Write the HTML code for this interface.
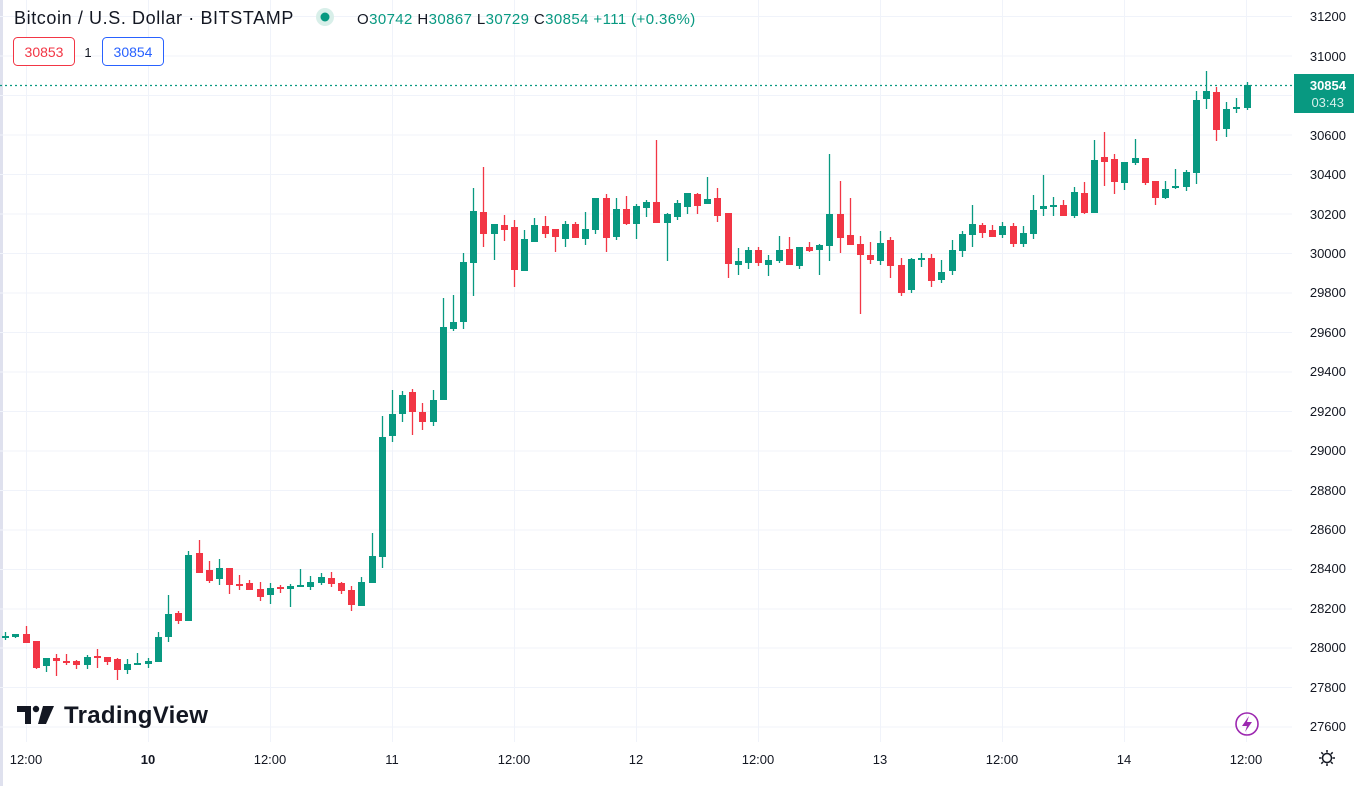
<!DOCTYPE html>
<html><head><meta charset="utf-8"><style>
body{margin:0;width:1358px;height:786px;overflow:hidden;background:#fff;font-family:"Liberation Sans",sans-serif}
</style></head><body>
<svg width="1358" height="786" viewBox="0 0 1358 786" xmlns="http://www.w3.org/2000/svg" font-family="Liberation Sans, sans-serif">
<rect x="0" y="0" width="3" height="786" fill="#dfe1ee"/>
<g stroke="#f0f3fa" stroke-width="1">
<path d="M0 16.5H1292M0 56H1292M0 95.5H1292M0 135H1292M0 174.5H1292M0 214H1292M0 253.5H1292M0 293H1292M0 332.5H1292M0 372H1292M0 411.5H1292M0 451H1292M0 490.5H1292M0 530H1292M0 569.5H1292M0 609H1292M0 648H1292M0 687.5H1292M0 727H1292"/>
<path d="M26.5 0V742M148.5 0V742M270.5 0V742M392.5 0V742M514.5 0V742M636.5 0V742M758.5 0V742M880.5 0V742M1002.5 0V742M1124.5 0V742M1246.5 0V742"/>
</g>
<line x1="0" y1="85.5" x2="1292" y2="85.5" stroke="#089981" stroke-width="1.2" stroke-dasharray="2 3"/>
<path fill="none" stroke="#089981" stroke-width="1.3" d="M5.5 632V640M15.5 634V638M46.5 658V672M87.5 655V669M127.5 659V674M137.5 653V665M148.5 658V668M158.5 632V662M168.5 595V642M188.5 551V621M219.5 559V585M270.5 583V604M290.5 584V607M300.5 569V587M310.5 576V590M321.5 573V585M361.5 577V606M372.5 533V583M382.5 416V568M392.5 390V442M402.5 391V422M433.5 390V426M443.5 298V400M453.5 295V331M463.5 253V329M473.5 188V296M494.5 224V260M524.5 230V271M534.5 218V242M565.5 221V247M585.5 212V245M595.5 198V234M616.5 198V240M636.5 204V239M646.5 200V217M667.5 213V261M677.5 200V220M687.5 193V214M707.5 177V204M738.5 248V275M748.5 247V269M768.5 255V276M779.5 236V263M799.5 247V269M819.5 244V275M829.5 154V261M880.5 231V265M911.5 258V293M921.5 253V267M941.5 260V283M952.5 240V275M962.5 231V257M972.5 205V247M1002.5 222V238M1023.5 226V247M1033.5 195V239M1043.5 175V216M1053.5 197V216M1074.5 187V218M1094.5 140V213M1124.5 162V190M1135.5 139V165M1165.5 181V199M1175.5 169V189M1186.5 170V191M1196.5 91V184M1206.5 71V109M1226.5 102V137M1236.5 98V113M1247.5 82V110"/>
<path fill="#089981" d="M2 636h7v2h-7zM12 634h7v3h-7zM43 658h7v8h-7zM84 657h7v8h-7zM124 664h7v6h-7zM134 663h7v2h-7zM145 661h7v3h-7zM155 637h7v25h-7zM165 614h7v23h-7zM185 555h7v66h-7zM216 568h7v11h-7zM267 588h7v7h-7zM287 586h7v3h-7zM297 585h7v2h-7zM307 582h7v5h-7zM318 577h7v6h-7zM358 582h7v24h-7zM369 556h7v27h-7zM379 437h7v120h-7zM389 414h7v22h-7zM399 395h7v19h-7zM430 400h7v22h-7zM440 327h7v73h-7zM450 322h7v7h-7zM460 262h7v60h-7zM470 211h7v52h-7zM491 224h7v10h-7zM521 239h7v32h-7zM531 225h7v17h-7zM562 224h7v15h-7zM582 229h7v10h-7zM592 198h7v32h-7zM613 209h7v28h-7zM633 206h7v18h-7zM643 202h7v6h-7zM664 214h7v9h-7zM674 203h7v14h-7zM684 193h7v14h-7zM704 199h7v5h-7zM735 261h7v4h-7zM745 250h7v13h-7zM765 260h7v5h-7zM776 250h7v11h-7zM796 247h7v19h-7zM816 245h7v5h-7zM826 214h7v32h-7zM877 243h7v18h-7zM908 259h7v31h-7zM918 258h7v2h-7zM938 272h7v8h-7zM949 250h7v21h-7zM959 234h7v17h-7zM969 224h7v11h-7zM999 226h7v9h-7zM1020 233h7v11h-7zM1030 210h7v24h-7zM1040 206h7v3h-7zM1050 205h7v2h-7zM1071 192h7v24h-7zM1091 160h7v53h-7zM1121 162h7v21h-7zM1132 158h7v5h-7zM1162 189h7v9h-7zM1172 186h7v2h-7zM1183 172h7v15h-7zM1193 100h7v73h-7zM1203 91h7v8h-7zM1223 109h7v20h-7zM1233 107h7v2h-7zM1244 85h7v23h-7z"/>
<path fill="none" stroke="#f23645" stroke-width="1.3" d="M26.5 626V643M36.5 641V669M56.5 654V676M66.5 654V665M76.5 660V669M97.5 649V668M107.5 657V665M117.5 658V680M178.5 611V624M199.5 540V573M209.5 561V583M229.5 568V594M239.5 575V590M249.5 580V590M260.5 582V601M280.5 585V593M331.5 572V587M341.5 582V594M351.5 586V611M412.5 389V435M422.5 403V430M483.5 167V247M504.5 215V241M514.5 220V287M545.5 216V238M555.5 229V252M575.5 222V238M606.5 194V252M626.5 196V225M656.5 140V223M697.5 193V214M717.5 188V222M728.5 213V278M758.5 247V266M789.5 237V265M809.5 242V252M840.5 181V253M850.5 198V245M860.5 236V314M870.5 242V264M890.5 237V278M901.5 258V296M931.5 254V287M982.5 223V238M992.5 225V237M1013.5 223V247M1063.5 200V216M1084.5 182V214M1104.5 132V186M1114.5 154V194M1145.5 158V185M1155.5 181V205M1216.5 87V141"/>
<path fill="#f23645" d="M23 634h7v9h-7zM33 641h7v27h-7zM53 658h7v3h-7zM63 661h7v2h-7zM73 661h7v4h-7zM94 656h7v2h-7zM104 657h7v5h-7zM114 659h7v11h-7zM175 613h7v8h-7zM196 553h7v20h-7zM206 570h7v11h-7zM226 568h7v17h-7zM236 584h7v2h-7zM246 583h7v7h-7zM257 589h7v8h-7zM277 587h7v2h-7zM328 578h7v6h-7zM338 583h7v8h-7zM348 590h7v15h-7zM409 392h7v20h-7zM419 412h7v10h-7zM480 212h7v22h-7zM501 225h7v5h-7zM511 227h7v43h-7zM542 226h7v8h-7zM552 229h7v8h-7zM572 224h7v14h-7zM603 198h7v40h-7zM623 209h7v15h-7zM653 202h7v21h-7zM694 194h7v12h-7zM714 198h7v18h-7zM725 213h7v51h-7zM755 250h7v13h-7zM786 249h7v16h-7zM806 247h7v4h-7zM837 214h7v24h-7zM847 235h7v10h-7zM857 244h7v11h-7zM867 255h7v5h-7zM887 240h7v26h-7zM898 265h7v28h-7zM928 258h7v23h-7zM979 225h7v8h-7zM989 230h7v7h-7zM1010 226h7v18h-7zM1060 205h7v11h-7zM1081 193h7v20h-7zM1101 157h7v5h-7zM1111 159h7v23h-7zM1142 158h7v25h-7zM1152 181h7v17h-7zM1213 92h7v38h-7z"/>
<g fill="#131722" font-size="13" text-anchor="end">
<text x="1346" y="21">31200</text><text x="1346" y="61">31000</text><text x="1346" y="140">30600</text><text x="1346" y="179">30400</text><text x="1346" y="219">30200</text><text x="1346" y="258">30000</text><text x="1346" y="297">29800</text><text x="1346" y="337">29600</text><text x="1346" y="376">29400</text><text x="1346" y="416">29200</text><text x="1346" y="455">29000</text><text x="1346" y="495">28800</text><text x="1346" y="534">28600</text><text x="1346" y="573">28400</text><text x="1346" y="613">28200</text><text x="1346" y="652">28000</text><text x="1346" y="692">27800</text><text x="1346" y="731">27600</text>
</g>
<rect x="1294" y="74" width="60" height="39" fill="#089981"/>
<text x="1346" y="90" fill="#fff" font-size="13" text-anchor="end" font-weight="bold">30854</text>
<text x="1344" y="107" fill="#d6f0eb" font-size="13" text-anchor="end">03:43</text>
<g fill="#131722" font-size="13" text-anchor="middle">
<text x="26" y="764">12:00</text><text x="148" y="764" font-weight="bold">10</text><text x="270" y="764">12:00</text><text x="392" y="764">11</text><text x="514" y="764">12:00</text><text x="636" y="764">12</text><text x="758" y="764">12:00</text><text x="880" y="764">13</text><text x="1002" y="764">12:00</text><text x="1124" y="764">14</text><text x="1246" y="764">12:00</text>
</g>
<g transform="translate(1327,758)" fill="none" stroke="#131722" stroke-width="1.5"><circle r="4.5"/><path d="M0 -8V-5.5M0 5.5V8M-8 0H-5.5M5.5 0H8M-5.7 -5.7L-3.9 -3.9M3.9 3.9L5.7 5.7M-5.7 5.7L-3.9 3.9M3.9 -3.9L5.7 -5.7"/></g>
<circle cx="1247" cy="724" r="11" fill="none" stroke="#9c27b0" stroke-width="1.6"/>
<path d="M1249 716L1242 726H1247L1245 732L1252 722H1247Z" fill="#9c27b0"/>
<text x="14" y="24" fill="#131722" font-size="18" letter-spacing="0.6">Bitcoin / U.S. Dollar · BITSTAMP</text>
<circle cx="325" cy="17" r="9" fill="#d8efe9"/><circle cx="325" cy="17" r="4.5" fill="#089981"/>
<text x="357" y="24" font-size="15" letter-spacing="0.4" fill="#089981"><tspan fill="#131722">O</tspan>30742 <tspan fill="#131722">H</tspan>30867 <tspan fill="#131722">L</tspan>30729 <tspan fill="#131722">C</tspan>30854 +111 (+0.36%)</text>
<rect x="13.5" y="37.5" width="61" height="28" rx="4" fill="#fff" stroke="#f23645"/>
<text x="44" y="57" font-size="14" fill="#f23645" text-anchor="middle">30853</text>
<text x="88" y="57" font-size="13" fill="#131722" text-anchor="middle">1</text>
<rect x="102.5" y="37.5" width="61" height="28" rx="4" fill="#fff" stroke="#2962ff"/>
<text x="133" y="57" font-size="14" fill="#2962ff" text-anchor="middle">30854</text>
<g fill="#131722"><path d="M17 706H31V724H25V712H17Z"/><circle cx="36" cy="709" r="3.2"/><path d="M43 706H54L46 724H38Z"/></g>
<text x="64" y="723" font-size="24" font-weight="bold" fill="#131722" letter-spacing="0.3">TradingView</text>
</svg>
</body></html>
